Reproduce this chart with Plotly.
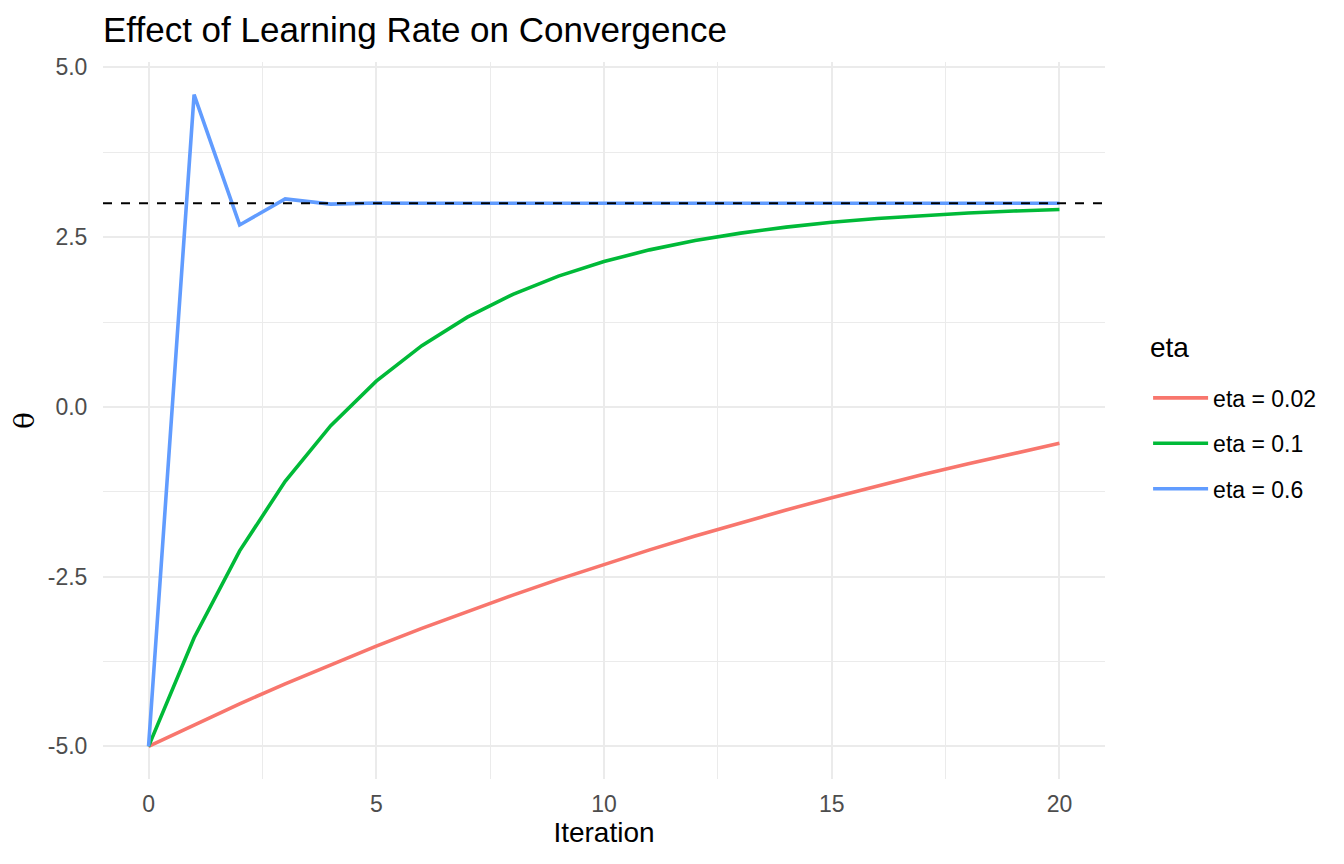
import plotly.graph_objects as go

iterations = list(range(21))
theta_eta_002 = [-5.0, -4.68, -4.373, -4.078, -3.795, -3.523, -3.262, -3.012, -2.771, -2.540,
                 -2.319, -2.106, -1.902, -1.706, -1.517, -1.337, -1.163, -0.997, -0.837, -0.683, -0.536]
theta_eta_01 = [-5.0, -3.4, -2.12, -1.096, -0.277, 0.379, 0.903, 1.322, 1.658, 1.926,
                2.141, 2.313, 2.450, 2.560, 2.648, 2.719, 2.775, 2.820, 2.856, 2.885, 2.908]
theta_eta_06 = [-5.0, 4.6, 2.68, 3.064, 2.987, 3.003, 2.999, 3.0, 3.0, 3.0,
                3.0, 3.0, 3.0, 3.0, 3.0, 3.0, 3.0, 3.0, 3.0, 3.0, 3.0]
target = 3.0

series_names = ["eta = 0.02", "eta = 0.1", "eta = 0.6"]
series_values = [theta_eta_002, theta_eta_01, theta_eta_06]
series_colors = ["#F8766D", "#00BA38", "#619CFF"]

x_ticks = [0, 5, 10, 15, 20]
y_ticks = [-5.0, -2.5, 0.0, 2.5, 5.0]
y_tick_labels = ["-5.0", "-2.5", "0.0", "2.5", "5.0"]

fig = go.Figure()
for i, (name, vals, col) in enumerate(zip(series_names, series_values, series_colors)):
    fig.add_trace(go.Scatter(
        x=iterations, y=vals, mode="lines", name=name,
        line=dict(color=col, width=3.6), legendgroup=f"g{i}",
    ))

fig.add_shape(type="line", xref="paper", x0=0, x1=1, yref="y", y0=target, y1=target,
              line=dict(color="black", width=2, dash="dash"), layer="above")

W, H = 1336, 856  # page body adds 8px offset
grid = "#EBEBEB"
fig.add_annotation(text="eta", xref="paper", yref="paper", x=1.043, y=0.6025,
                   xanchor="left", yanchor="middle", showarrow=False,
                   font=dict(size=28, color="black"))
fig.update_layout(
    width=W, height=H,
    paper_bgcolor="white", plot_bgcolor="white",
    margin=dict(l=95, r=239, t=54, b=85),
    font=dict(family="Liberation Sans, Arial, sans-serif", color="#4D4D4D"),
    title=dict(text="Effect of Learning Rate on Convergence", x=95/W, xanchor="left",
               y=1 - 22/H, yanchor="middle",
               font=dict(size=35, color="black")),
    xaxis=dict(range=[-1, 21], tickvals=x_ticks, ticktext=[str(t) for t in x_ticks],
               showgrid=True, gridcolor=grid, gridwidth=2,
               minor=dict(tickvals=[2.5, 7.5, 12.5, 17.5], showgrid=True, gridcolor=grid, gridwidth=1),
               zeroline=False, showline=False, ticks="outside", ticklen=4, tickcolor="rgba(0,0,0,0)",
               tickfont=dict(size=23, color="#4D4D4D"),
               title=dict(text="Iteration", font=dict(size=28, color="black"), standoff=6)),
    yaxis=dict(range=[-5.48, 5.08], tickvals=y_ticks, ticktext=y_tick_labels,
               showgrid=True, gridcolor=grid, gridwidth=2,
               minor=dict(tickvals=[-3.75, -1.25, 1.25, 3.75], showgrid=True, gridcolor=grid, gridwidth=1),
               zeroline=False, showline=False, ticks="outside", ticklen=10, tickcolor="rgba(0,0,0,0)",
               tickfont=dict(size=23, color="#4D4D4D"),
               title=dict(text="θ", font=dict(size=28, color="black", family="DejaVu Serif"), standoff=8)),
    legend=dict(x=1.043, xanchor="left", y=0.468, yanchor="middle",
                font=dict(size=23, color="black"), tracegroupgap=12.5,
                itemwidth=55, bgcolor="rgba(0,0,0,0)"),
)

fig.write_html("out.html")
